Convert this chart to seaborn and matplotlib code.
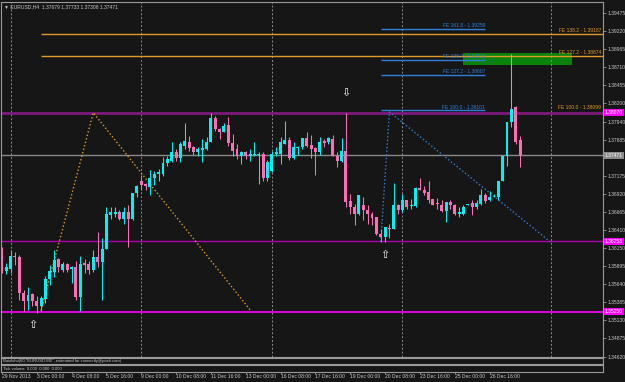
import matplotlib
matplotlib.use("Agg")
import matplotlib.pyplot as plt
import matplotlib.transforms as mtransforms
import seaborn as sns
import pandas as pd
import numpy as np

# EURUSD H4 candles, 29 Nov 2013 16:00 .. 27 Dec 2013 20:00 (bar index 0..119)
opens = [1.3603, 1.3583, 1.3586, 1.3604, 1.3603, 1.3552, 1.3540, 1.3550, 1.3541, 1.3534,
         1.3543, 1.3571, 1.3582, 1.3600, 1.3585, 1.3593, 1.3586, 1.3588, 1.3546, 1.3595,
         1.3593, 1.3585, 1.3603, 1.3596, 1.3614, 1.3662, 1.3664, 1.3666, 1.3657, 1.3667,
         1.3657, 1.3693, 1.3711, 1.3706, 1.3702, 1.3715, 1.3720, 1.3720, 1.3736, 1.3739,
         1.3751, 1.3743, 1.3760, 1.3766, 1.3758, 1.3751, 1.3754, 1.3756, 1.3765, 1.3799,
         1.3784, 1.3779, 1.3790, 1.3764, 1.3755, 1.3745, 1.3751, 1.3746, 1.3747, 1.3747,
         1.3749, 1.3715, 1.3725, 1.3748, 1.3749, 1.3763, 1.3768, 1.3743, 1.3757, 1.3758,
         1.3771, 1.3761, 1.3757, 1.3752, 1.3767, 1.3765, 1.3770, 1.3746, 1.3738, 1.3753,
         1.3682, 1.3674, 1.3663, 1.3677, 1.3670, 1.3663, 1.3660, 1.3636, 1.3631, 1.3644,
         1.3643, 1.3676, 1.3669, 1.3683, 1.3675, 1.3675, 1.3701, 1.3698, 1.3695, 1.3685,
         1.3679, 1.3677, 1.3668, 1.3681, 1.3677, 1.3664, 1.3664, 1.3677, 1.3679, 1.3673,
         1.3678, 1.3690, 1.3683, 1.3687, 1.3687, 1.3711, 1.3745, 1.3794, 1.3815, 1.37679]
highs = [1.3617, 1.3594, 1.3613, 1.3610, 1.3606, 1.3556, 1.3561, 1.3552, 1.3547, 1.3547,
         1.3576, 1.3592, 1.3613, 1.3602, 1.3596, 1.3595, 1.3590, 1.3597, 1.3604, 1.3600,
         1.3597, 1.3613, 1.3638, 1.3629, 1.3673, 1.3673, 1.3674, 1.3669, 1.3674, 1.3676,
         1.3694, 1.3704, 1.3719, 1.3708, 1.3726, 1.3724, 1.3728, 1.3744, 1.3745, 1.3765,
         1.3756, 1.3765, 1.3792, 1.3774, 1.3760, 1.3759, 1.3770, 1.3772, 1.3806, 1.3802,
         1.3786, 1.3793, 1.3801, 1.3777, 1.3763, 1.3753, 1.3753, 1.3756, 1.3766, 1.3751,
         1.3751, 1.3740, 1.3753, 1.3758, 1.3772, 1.3795, 1.3772, 1.3765, 1.3760, 1.3771,
         1.3780, 1.3775, 1.3758, 1.3772, 1.3770, 1.3772, 1.3775, 1.3751, 1.3771, 1.3807,
         1.3692, 1.3678, 1.3690, 1.3688, 1.3677, 1.3666, 1.3660, 1.3643, 1.3645, 1.3650,
         1.3707, 1.3678, 1.3692, 1.3683, 1.3685, 1.3702, 1.3715, 1.3703, 1.3711, 1.3685,
         1.3686, 1.3684, 1.3681, 1.3683, 1.3678, 1.3673, 1.3676, 1.3678, 1.3683, 1.3684,
         1.3699, 1.3693, 1.3696, 1.3692, 1.3711, 1.3745, 1.3794, 1.3890, 1.3817, 1.37733]
lows = [1.3580, 1.3579, 1.3580, 1.3592, 1.3542, 1.3526, 1.3528, 1.3533, 1.3524, 1.3527,
        1.3538, 1.3563, 1.3575, 1.3582, 1.3581, 1.3582, 1.3566, 1.3542, 1.3527, 1.3580,
        1.3579, 1.3581, 1.3589, 1.3542, 1.3614, 1.3657, 1.3659, 1.3655, 1.3649, 1.3617,
        1.3655, 1.3688, 1.3698, 1.3698, 1.3691, 1.3704, 1.3711, 1.3718, 1.3732, 1.3737,
        1.3739, 1.3737, 1.3755, 1.3753, 1.3747, 1.3746, 1.3737, 1.3754, 1.3765, 1.3781,
        1.3770, 1.3779, 1.3760, 1.3746, 1.3741, 1.3734, 1.3741, 1.3739, 1.3746, 1.3706,
        1.3711, 1.3710, 1.3723, 1.3746, 1.3734, 1.3763, 1.3740, 1.3741, 1.3747, 1.3756,
        1.3758, 1.3743, 1.3719, 1.3747, 1.3759, 1.3763, 1.3745, 1.3730, 1.3737, 1.3673,
        1.3664, 1.3648, 1.3662, 1.3655, 1.3650, 1.3648, 1.3634, 1.3624, 1.3624, 1.3629,
        1.3642, 1.3664, 1.3666, 1.3671, 1.3671, 1.3674, 1.3697, 1.3690, 1.3679, 1.3676,
        1.3671, 1.3666, 1.3652, 1.3671, 1.3662, 1.3660, 1.3662, 1.3676, 1.3662, 1.3671,
        1.3677, 1.3679, 1.3682, 1.3687, 1.3684, 1.3710, 1.3732, 1.3787, 1.3763, 1.37308]
closes = [1.3582, 1.3589, 1.3604, 1.3603, 1.3552, 1.3540, 1.3549, 1.3541, 1.3534, 1.3545,
          1.3571, 1.3583, 1.3599, 1.3588, 1.3593, 1.3585, 1.3588, 1.3546, 1.3593, 1.3591,
          1.3585, 1.3603, 1.3596, 1.3614, 1.3663, 1.3666, 1.3666, 1.3657, 1.3667, 1.3657,
          1.3694, 1.3703, 1.3705, 1.3703, 1.3715, 1.3720, 1.3723, 1.3736, 1.3741, 1.3751,
          1.3743, 1.3762, 1.3767, 1.3757, 1.3751, 1.3755, 1.3757, 1.3766, 1.3799, 1.3784,
          1.3779, 1.3788, 1.3764, 1.3753, 1.3745, 1.3751, 1.3745, 1.3749, 1.3749, 1.3749,
          1.3715, 1.3737, 1.3749, 1.3751, 1.3765, 1.3768, 1.3743, 1.3758, 1.3758, 1.3771,
          1.3760, 1.3755, 1.3752, 1.3765, 1.3764, 1.3771, 1.3746, 1.3738, 1.3753, 1.3681,
          1.3673, 1.3663, 1.3690, 1.3669, 1.3663, 1.3658, 1.3636, 1.3631, 1.3645, 1.3643,
          1.3676, 1.3669, 1.3683, 1.3674, 1.3676, 1.3701, 1.3698, 1.3693, 1.3683, 1.3677,
          1.3678, 1.3668, 1.3681, 1.3676, 1.3664, 1.3666, 1.3673, 1.3678, 1.3673, 1.3679,
          1.3690, 1.3682, 1.3688, 1.3688, 1.3711, 1.3745, 1.3794, 1.3812, 1.3765, 1.37471]

# time axis labels (every 8th bar)
tick_bars = [0, 8, 16, 24, 32, 40, 48, 56, 64, 72, 80, 88, 96, 104, 112]
tick_labels = ["29 Nov 2013", "3 Dec 00:00", "4 Dec 08:00", "5 Dec 16:00", "9 Dec 00:00",
               "10 Dec 08:00", "11 Dec 16:00", "13 Dec 00:00", "16 Dec 08:00", "17 Dec 16:00",
               "19 Dec 00:00", "20 Dec 08:00", "23 Dec 16:00", "25 Dec 00:00", "26 Dec 16:00"]
separator_bars = [2, 32, 62, 92, 126]

price_ticks = [1.39475, 1.39220, 1.38965, 1.38710, 1.38455, 1.38200, 1.37940, 1.37685,
               1.37175, 1.36920, 1.36665, 1.36410, 1.36150, 1.35895, 1.35640, 1.35385,
               1.35130, 1.34875, 1.34620]

# horizontal levels
level_resist = 1.38070
level_support = 1.36253
level_low = 1.35250
bid = 1.37471

# Fibonacci expansions
fe_orange_names = ["FE 138.2", "FE 127.2", "FE 100.0"]
fe_orange_vals = [1.39187, 1.38874, 1.38099]
fe_blue_names = ["FE 161.8", "FE 138.2", "FE 127.2", "FE 100.0"]
fe_blue_vals = [1.39258, 1.38816, 1.38607, 1.38101]
zig_orange_x = [9, 21, 57]
zig_orange_y = [1.3527, 1.3807, 1.3528]
zig_blue_x = [87, 89, 126]
zig_blue_y = [1.3624, 1.3808, 1.3624]
zone_bars = [106, 131]
zone_prices = [1.3875, 1.3891]

arrows_up = [(7, 1.3507), (88, 1.3606)]
arrows_down = [(79, 1.3835)]

BG = "#161616"
BULL = "#00f2f2"
BEAR = "#ff6eb4"
GRID = "#8c8c8c"
TXT = "#c8c8c8"
ORANGE = "#e09a28"
BLUE = "#2f80dc"
FS = 3.6

sns.set_theme(style="dark", rc={"axes.facecolor": BG, "figure.facecolor": BG,
                                "axes.edgecolor": "#9a9a9a", "axes.linewidth": 0.8})
plt.rcParams["font.family"] = ["Liberation Sans", "DejaVu Sans"]

df = pd.DataFrame({"bar": np.arange(len(opens)), "open": opens, "high": highs,
                   "low": lows, "close": closes})
df["up"] = df["close"] >= df["open"]
df["color"] = np.where(df["up"], BULL, BEAR)
df["bottom"] = df[["open", "close"]].min(axis=1)
df["body"] = (df["close"] - df["open"]).abs().clip(lower=0.00012)

fig = plt.figure(figsize=(6.25, 3.82), dpi=100)
ax = fig.add_axes([1 / 625, 1 - 357 / 382, 602 / 625, 355 / 382])
ax.set_xlim(-0.2, 138.05)
ax.set_ylim(1.34613, 1.39636)

# green zone (background object)
ax.fill_between(zone_bars, zone_prices[0], zone_prices[1], color="#0b820b", lw=0, zorder=0.5)

# period separators
for b in separator_bars:
    ax.axvline(b, color=GRID, lw=0.7, ls=(0, (2, 2)), zorder=1)

# horizontal lines
ax.axhline(level_resist, color="#7d1a7d", lw=2.0, zorder=1.2)
ax.axhline(bid, color="#8a8a8a", lw=1.0, zorder=1.2)
ax.axhline(level_support, color="#b000b0", lw=1.0, zorder=1.2)
ax.axhline(level_low, color="#ff00ff", lw=1.2, zorder=1.2)

# FE levels
for v in fe_orange_vals[:2]:
    ax.hlines(v, 9, 138.05, color=ORANGE, lw=1.0, zorder=1.3)
for v in fe_blue_vals:
    ax.hlines(v, 87, 111, color=BLUE, lw=1.0, zorder=1.3)
for n, v in zip(fe_orange_names, fe_orange_vals):
    ax.text(137.6, v + 0.0001, f"{n} - {v:.5f}", color=ORANGE, fontsize=FS,
            ha="right", va="bottom", zorder=4)
for n, v in zip(fe_blue_names, fe_blue_vals):
    ax.text(111, v + 0.0001, f"{n} - {v:.5f}", color=BLUE, fontsize=FS,
            ha="right", va="bottom", zorder=4)

# zigzags
sns.lineplot(x=zig_orange_x, y=zig_orange_y, ax=ax, color=ORANGE, lw=1.0,
             linestyle=(0, (1, 1.6)), zorder=1.5)
sns.lineplot(x=zig_blue_x, y=zig_blue_y, ax=ax, color=BLUE, lw=1.0,
             linestyle=(0, (1, 1.6)), zorder=1.5)

# candles
ax.vlines(df["bar"], df["low"], df["high"], colors=df["color"], lw=0.75, zorder=2)
ax.bar(df["bar"], df["body"], bottom=df["bottom"], width=0.68, color=df["color"],
       linewidth=0, zorder=3)

# arrows
for b, p in arrows_up:
    ax.text(b, p, "\u21e7", color="white", fontsize=8, ha="center", va="center",
            family="DejaVu Sans", zorder=5)
for b, p in arrows_down:
    ax.text(b, p, "\u21e9", color="white", fontsize=8, ha="center", va="center",
            family="DejaVu Sans", zorder=5)

# right price scale
ax.yaxis.tick_right()
ax.set_yticks(price_ticks)
ax.set_yticklabels([f"{t:.5f}" for t in price_ticks])
ax.tick_params(axis="y", colors="#9a9a9a", labelcolor=TXT, labelsize=FS, length=2,
               width=0.6, pad=1.0, direction="out", right=True)
ax.tick_params(axis="x", bottom=False, labelbottom=False)
ax.set_xlabel("")
ax.set_ylabel("")
ax.grid(False)

trans = mtransforms.blended_transform_factory(ax.transAxes, ax.transData)
for v, fc in [(level_resist, "#ff00ff"), (bid, "#8a8a8a"),
              (level_support, "#ff00ff"), (level_low, "#ff00ff")]:
    ax.text(1.0035, v, f"{v:.5f}", transform=trans, fontsize=FS, color="white", ha="left",
            va="center", zorder=6, clip_on=False,
            bbox=dict(boxstyle="square,pad=0.2", fc=fc, ec="none"))

ax.text(0.005, 0.993, "\u25bc EURUSD,H4  1.37679 1.37733 1.37308 1.37471",
        transform=ax.transAxes, color=TXT, fontsize=FS, ha="left", va="top")

# indicator sub-windows
sub1 = fig.add_axes([1 / 625, 1 - 364 / 382, 602 / 625, 6 / 382], sharex=ax)
sub2 = fig.add_axes([1 / 625, 1 - 372 / 382, 602 / 625, 7 / 382], sharex=ax)
for s in (sub1, sub2):
    s.set_facecolor(BG)
    s.set_yticks([])
    s.tick_params(axis="x", bottom=False, labelbottom=False)
    s.grid(False)
sub1.text(0.003, 0.5, 'Baiolsho(60,"EURUSD.M5", estimated for connectly@posh.com)',
          transform=sub1.transAxes, color=TXT, fontsize=3.0, va="center")
sub2.text(0.003, 0.5, "Tick volume  0.000  0.000  0.000",
          transform=sub2.transAxes, color=TXT, fontsize=3.0, va="center")

sub2.set_xticks(tick_bars)
sub2.set_xticklabels(tick_labels)
sub2.tick_params(axis="x", bottom=True, labelbottom=True, labelsize=FS, labelcolor=TXT,
                 colors="#9a9a9a", length=1.5, width=0.6, pad=0.3)
for lbl in sub2.get_xticklabels():
    lbl.set_horizontalalignment("left")

fig.savefig("out.png", dpi=100, facecolor=BG)
